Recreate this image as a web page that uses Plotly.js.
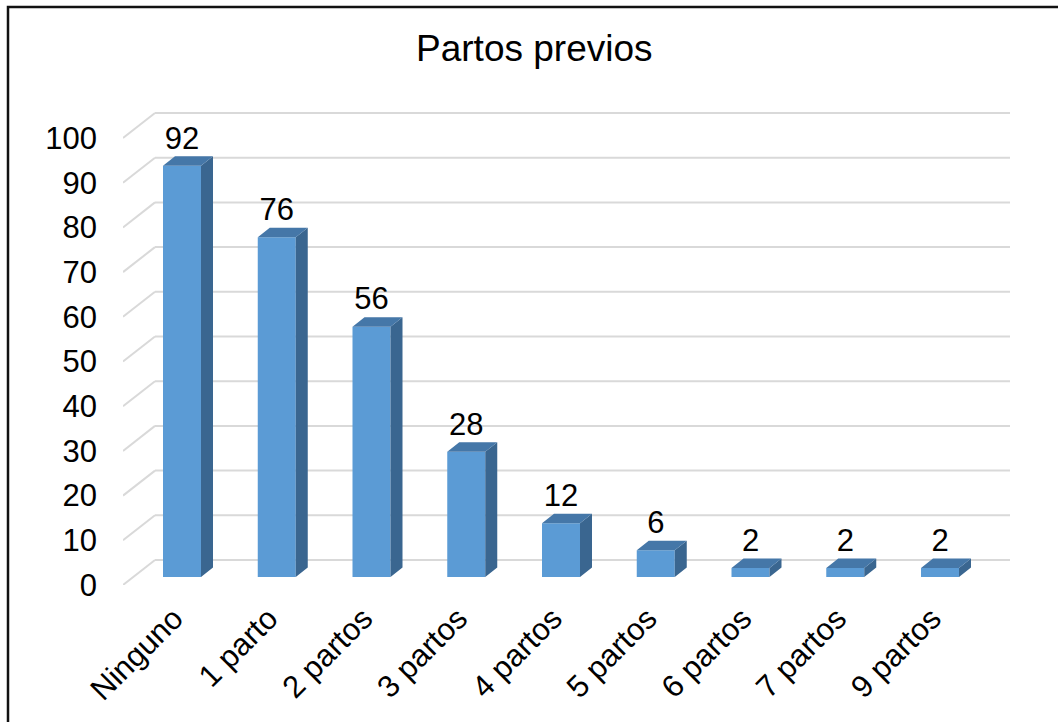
<!DOCTYPE html>
<html>
<head>
<meta charset="utf-8">
<script src="https://cdn.plot.ly/plotly-3.0.1.min.js"></script>
<style>html,body{margin:0;padding:0;background:#fff;} #chart{width:1058px;height:722px;}</style>
</head>
<body>
<div id="chart"></div>
<script>
// ---- data ----
const categories = ["Ninguno", "1 parto", "2 partos", "3 partos", "4 partos", "5 partos", "6 partos", "7 partos", "9 partos"];
const values = [92, 76, 56, 28, 12, 6, 2, 2, 2];
const yTickVals = [0, 10, 20, 30, 40, 50, 60, 70, 80, 90, 100];
const yTickText = ["0", "10", "20", "30", "40", "50", "60", "70", "80", "90", "100"];

// ---- geometry (pixel-derived) ----
const W = 1058, H = 722;
const mL = 123, mR = 48, mT = 100, mB = 137;
const pxPerX = 94.75, pxPerY = 4.47;
const plotW = W - mL - mR, plotH = H - mT - mB;
const xMin = -(182 - mL) / pxPerX;          // left edge of plot
const xMax = xMin + plotW / pxPerX;
const yMax = plotH / pxPerY;

const barW = 38 / pxPerX;
const baseOff = 8 / pxPerY;                 // bars sit a bit behind the floor front edge
const ddx = 12 / pxPerX, ddy = 9.5 / pxPerY; // bar depth
const wallDx = 32 / pxPerX, wallDy = 25 / pxPerY; // floor depth

const idx = categories.map((_, i) => i);

// side & top faces
const sideX = [], sideY = [], topX = [], topY = [];
idx.forEach(i => {
  const v = values[i];
  const xl = i - barW / 2, xr = i + barW / 2;
  const b = baseOff, t = baseOff + v;
  sideX.push(xr, xr + ddx, xr + ddx, xr, xr, null);
  sideY.push(b, b + ddy, t + ddy, t, b, null);
  topX.push(xl, xl + ddx, xr + ddx, xr, xl, null);
  topY.push(t, t + ddy, t + ddy, t, t, null);
});

// gridlines as shapes (below traces)
const shapes = [];
yTickVals.forEach(tv => {
  shapes.push({type: 'line', layer: 'below', xref: 'x', yref: 'y',
    x0: xMin, y0: tv, x1: xMin + wallDx, y1: tv + wallDy,
    line: {color: '#d9d9d9', width: 2}});
  shapes.push({type: 'line', layer: 'below', xref: 'x', yref: 'y',
    x0: xMin + wallDx, y0: tv + wallDy, x1: xMax, y1: tv + wallDy,
    line: {color: '#d9d9d9', width: 2}});
});
// outer frame (chart border)
shapes.push({type: 'rect', xref: 'paper', yref: 'paper',
  x0: (8 - mL) / plotW, x1: (1080 - mL) / plotW,
  y0: (H - mB - 740) / plotH, y1: (H - mB - 7) / plotH,
  line: {color: '#111', width: 2.5}, fillcolor: 'rgba(0,0,0,0)'});

const font = 'Liberation Sans, Arial, sans-serif';

const data = [
  {type: 'bar', x: idx, y: values, base: baseOff, width: barW,
   marker: {color: '#5b9bd5', line: {width: 0}}, hoverinfo: 'skip', showlegend: false},
  {type: 'scatter', mode: 'lines', x: sideX, y: sideY, fill: 'toself',
   fillcolor: '#3a6690', line: {width: 0, color: '#3a6690'}, hoverinfo: 'skip', showlegend: false},
  {type: 'scatter', mode: 'lines', x: topX, y: topY, fill: 'toself',
   fillcolor: '#4577a8', line: {width: 0, color: '#4577a8'}, hoverinfo: 'skip', showlegend: false},
  {type: 'scatter', mode: 'text', x: idx, y: values.map(v => v + baseOff + ddy),
   text: values.map(String), textposition: 'top center',
   textfont: {family: font, size: 31, color: '#000'}, hoverinfo: 'skip', showlegend: false}
];

const layout = {
  width: W, height: H,
  margin: {l: mL, r: mR, t: mT, b: mB, pad: 0},
  paper_bgcolor: '#fff', plot_bgcolor: 'rgba(0,0,0,0)',
  font: {family: font, color: '#000'},
  title: {text: 'Partos previos', x: 0.505, xanchor: 'center', y: 1 - 48 / H, yanchor: 'middle', yref: 'container',
          font: {family: font, size: 37, color: '#000'}},
  xaxis: {range: [xMin, xMax], tickmode: 'array', tickvals: idx, ticktext: categories,
          tickangle: -45, showgrid: false, zeroline: false, showline: false, ticks: '',
          ticklabelstandoff: 8, ticklabelshift: -8, tickfont: {family: font, size: 31, color: '#000'}, fixedrange: true},
  yaxis: {range: [0, yMax], tickmode: 'array', tickvals: yTickVals, ticktext: yTickText,
          showgrid: false, zeroline: false, showline: false, ticks: '',
          ticklabelstandoff: 25, tickfont: {family: font, size: 31, color: '#000'}, fixedrange: true},
  shapes: shapes,
  showlegend: false
};

Plotly.newPlot('chart', data, layout, {displayModeBar: false, staticPlot: true});
</script>
</body>
</html>
